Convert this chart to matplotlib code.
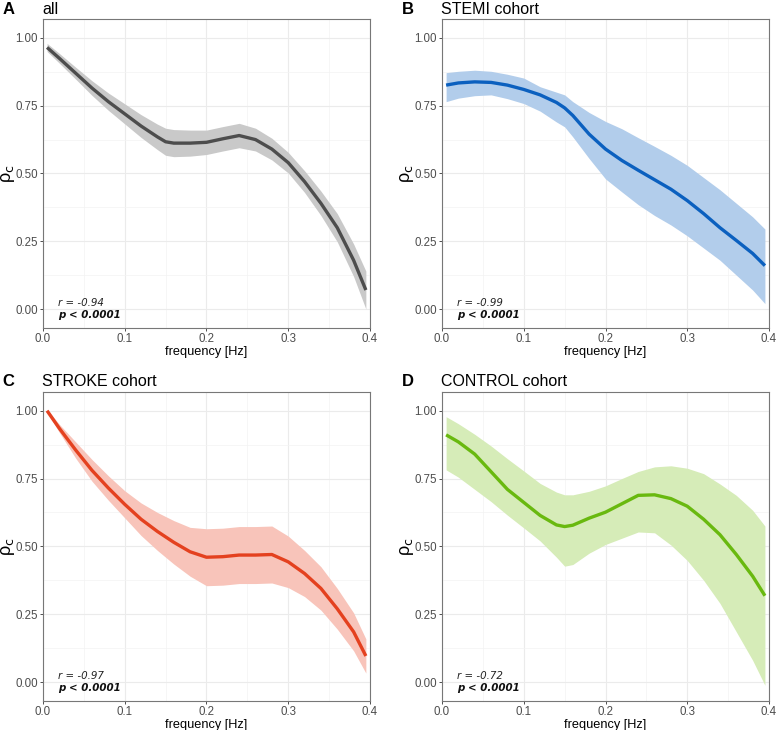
import matplotlib
matplotlib.use("Agg")
import matplotlib.pyplot as plt
from matplotlib.ticker import MultipleLocator

plt.rcParams['font.family'] = ['Liberation Sans', 'DejaVu Sans']
plt.rcParams['mathtext.fontset'] = 'dejavusans'

# frequency grid
FREQ = [0.005, 0.02, 0.04, 0.06, 0.08, 0.10, 0.12, 0.14, 0.15, 0.16, 0.18, 0.20,
        0.22, 0.24, 0.26, 0.28, 0.30, 0.32, 0.34, 0.36, 0.38, 0.395]

# A: all
all_fit = [0.965, 0.925, 0.87, 0.815, 0.765, 0.72, 0.675, 0.635, 0.617, 0.612, 0.612, 0.615,
           0.628, 0.64, 0.625, 0.59, 0.54, 0.47, 0.39, 0.30, 0.18, 0.07]
all_lo = [0.95, 0.907, 0.848, 0.788, 0.733, 0.683, 0.633, 0.588, 0.567, 0.562, 0.564, 0.57,
          0.583, 0.595, 0.583, 0.55, 0.502, 0.43, 0.345, 0.248, 0.12, 0.0]
all_hi = [0.98, 0.943, 0.892, 0.842, 0.797, 0.757, 0.717, 0.682, 0.667, 0.662, 0.66, 0.66,
          0.673, 0.685, 0.667, 0.63, 0.578, 0.51, 0.435, 0.352, 0.24, 0.14]

# B: STEMI cohort
stemi_fit = [0.826, 0.834, 0.838, 0.836, 0.826, 0.81, 0.79, 0.762, 0.742, 0.714, 0.645, 0.59,
             0.548, 0.512, 0.477, 0.442, 0.40, 0.352, 0.30, 0.253, 0.205, 0.16]
stemi_lo = [0.765, 0.778, 0.787, 0.79, 0.776, 0.758, 0.73, 0.69, 0.672, 0.635, 0.555, 0.48,
            0.432, 0.385, 0.345, 0.31, 0.27, 0.225, 0.18, 0.125, 0.07, 0.02]
stemi_hi = [0.872, 0.877, 0.881, 0.877, 0.866, 0.852, 0.82, 0.80, 0.79, 0.765, 0.725, 0.692,
            0.665, 0.632, 0.60, 0.567, 0.53, 0.485, 0.44, 0.39, 0.34, 0.295]

# C: STROKE cohort
stroke_fit = [1.0, 0.935, 0.855, 0.78, 0.715, 0.655, 0.60, 0.555, 0.535, 0.515, 0.48, 0.46,
              0.462, 0.468, 0.468, 0.47, 0.443, 0.40, 0.345, 0.27, 0.185, 0.096]
stroke_lo = [0.995, 0.92, 0.825, 0.74, 0.67, 0.605, 0.54, 0.485, 0.46, 0.435, 0.39, 0.355,
             0.357, 0.363, 0.363, 0.365, 0.348, 0.315, 0.265, 0.195, 0.115, 0.033]
stroke_hi = [1.005, 0.95, 0.885, 0.82, 0.76, 0.705, 0.66, 0.625, 0.61, 0.595, 0.57, 0.565,
             0.567, 0.573, 0.573, 0.575, 0.538, 0.485, 0.425, 0.345, 0.255, 0.159]

# D: CONTROL cohort
control_fit = [0.911, 0.885, 0.84, 0.775, 0.71, 0.662, 0.614, 0.579, 0.573, 0.578, 0.604, 0.626,
               0.657, 0.688, 0.69, 0.676, 0.648, 0.60, 0.543, 0.47, 0.39, 0.318]
control_lo = [0.782, 0.755, 0.71, 0.665, 0.615, 0.568, 0.52, 0.46, 0.427, 0.433, 0.475, 0.507,
              0.53, 0.553, 0.55, 0.505, 0.448, 0.375, 0.29, 0.185, 0.08, -0.012]
control_hi = [0.978, 0.952, 0.913, 0.87, 0.823, 0.778, 0.732, 0.70, 0.69, 0.69, 0.703, 0.723,
              0.75, 0.776, 0.793, 0.797, 0.788, 0.768, 0.73, 0.688, 0.633, 0.575]

panels = [
    ("A", "all", all_fit, all_lo, all_hi, "#4D4D4D", "#C9C9C9", "r = -0.94"),
    ("B", "STEMI cohort", stemi_fit, stemi_lo, stemi_hi, "#0B60BF", "#B2CDEB", "r = -0.99"),
    ("C", "STROKE cohort", stroke_fit, stroke_lo, stroke_hi, "#E4411F", "#F8C4BA", "r = -0.97"),
    ("D", "CONTROL cohort", control_fit, control_lo, control_hi, "#69B90F", "#D6ECB8", "r = -0.72"),
]

positions = [
    [0.0551, 0.5507, 0.4192, 0.4233],
    [0.5667, 0.5507, 0.4192, 0.4233],
    [0.0551, 0.0397, 0.4192, 0.4237],
    [0.5667, 0.0397, 0.4192, 0.4237],
]

fig = plt.figure(figsize=(7.8, 7.3), dpi=100)

for (letter, title, fit, lo, hi, col, band, rtxt), pos in zip(panels, positions):
    ax = fig.add_axes(pos)
    ax.fill_between(FREQ, lo, hi, color=band, lw=0, zorder=2)
    ax.plot(FREQ, fit, color=col, lw=2.4, solid_capstyle='butt', solid_joinstyle='round', zorder=3)

    ax.set_xlim(0, 0.4)
    ax.set_ylim(-0.07, 1.07)
    ax.xaxis.set_minor_locator(MultipleLocator(0.05))
    ax.yaxis.set_minor_locator(MultipleLocator(0.125))
    ax.set_xticks([0, 0.1, 0.2, 0.3, 0.4])
    ax.set_xticklabels(["0.0", "0.1", "0.2", "0.3", "0.4"])
    ax.set_yticks([0, 0.25, 0.5, 0.75, 1.0])
    ax.set_yticklabels(["0.00", "0.25", "0.50", "0.75", "1.00"])
    ax.grid(which='major', color='#EBEBEB', lw=0.8, zorder=0)
    ax.grid(which='minor', color='#F3F3F3', lw=0.5, zorder=0)
    ax.set_axisbelow(True)
    ax.tick_params(which='major', length=2.5, width=0.6, color='#333333',
                   labelsize=8.3, labelcolor='#4D4D4D', pad=1)
    ax.tick_params(which='minor', length=0)
    for s in ax.spines.values():
        s.set_color('#777777')
        s.set_linewidth(0.8)

    ax.set_xlabel("frequency [Hz]", fontsize=9.2, labelpad=0.5)
    ax.set_ylabel(r"ρ$_{\mathrm{c}}$", fontsize=13, va='center')
    ax.yaxis.set_label_coords(-0.108, 0.5)

    ax.text(0.018, 0.022, rtxt, fontsize=7.4, style='italic', family='DejaVu Sans',
            color='#222222', va='center', ha='left', zorder=4)
    ax.text(0.018, -0.022, "p < 0.0001", fontsize=7.4, style='italic', weight='bold',
            family='DejaVu Sans', color='#111111', va='center', ha='left', zorder=4)

    x0 = pos[0]
    ytop = pos[1] + pos[3] + 0.0135
    fig.text(x0 - 0.052, ytop, letter, fontsize=12, weight='bold', va='center', ha='left')
    fig.text(x0 - 0.001, ytop, title, fontsize=11.5, va='center', ha='left')

fig.savefig("out.png", dpi=100)
